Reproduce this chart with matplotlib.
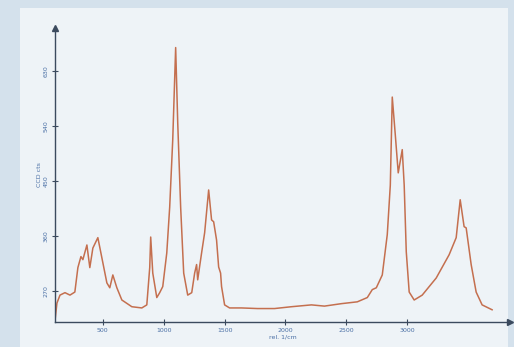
import matplotlib
matplotlib.use("Agg")
import matplotlib.pyplot as plt

# Raman spectrum
shift = [107, 123, 148, 189, 230, 270, 295, 320, 336, 369, 393, 418, 459, 492,
         533, 557, 582, 615, 656, 738, 820, 861, 885, 893, 910, 943, 967, 992,
         1025, 1049, 1074, 1098, 1115, 1139, 1164, 1197, 1230, 1254, 1270, 1279,
         1311, 1336, 1369, 1393, 1410, 1434, 1451, 1467, 1475, 1500, 1541, 1639,
         1771, 1910, 2049, 2213, 2320, 2459, 2590, 2672, 2713, 2746, 2795, 2836,
         2861, 2877, 2902, 2926, 2959, 2975, 2992, 3016, 3057, 3123, 3238, 3344,
         3402, 3435, 3467, 3484, 3525, 3566, 3615, 3697]
counts = [221, 250, 263, 267, 263, 268, 308, 326, 321, 345, 308, 340, 357, 324,
          283, 275, 296, 275, 255, 244, 242, 247, 308, 358, 299, 259, 267, 277,
          332, 407, 517, 668, 545, 407, 299, 263, 267, 299, 313, 288,
          332, 365, 435, 386, 383, 353, 309, 299, 277, 247, 242, 242,
          241, 241, 244, 247, 245, 249, 252, 259, 272, 275, 296, 362,
          443, 587, 525, 463, 501, 443, 334, 268, 255, 263, 291, 329,
          357, 419, 375, 373, 313, 268, 247, 239]

xticks = [500, 1000, 1500, 2000, 2500, 3000]
xtick_labels = ['500', '1000', '1500', '2000', '2500', '3000']
yticks = [270, 360, 450, 540, 630]
ytick_labels = ['270', '360', '450', '540', '630']

fig = plt.figure(figsize=(5.14, 3.47), dpi=100)
fig.patch.set_facecolor('#d4e1ec')

# lighter inner panel
bg = fig.add_axes([20/514, 0, 488/514, 1 - 8/347], zorder=-1)
bg.set_facecolor('#eef3f7')
bg.set_xticks([])
bg.set_yticks([])
for s in bg.spines.values():
    s.set_visible(False)

ax = fig.add_axes([55/514, 1 - 322/347, 455/514, 294/347])
ax.set_facecolor('none')
ax.plot(shift, counts, color='#c46f4f', lw=1.1)

ax.set_xlim(107, 3844)
ax.set_ylim(219, 700)
for s in ['top', 'right']:
    ax.spines[s].set_visible(False)
for s in ['left', 'bottom']:
    ax.spines[s].set_color('#3b4a5e')
    ax.spines[s].set_linewidth(1.0)

# arrow heads on axes
ax.plot(1, 0, '>', color='#3b4a5e', ms=5, transform=ax.transAxes, clip_on=False)
ax.plot(0, 1, '^', color='#3b4a5e', ms=5, transform=ax.transAxes, clip_on=False)

ax.set_xticks(xticks)
ax.set_xticklabels(xtick_labels)
ax.set_yticks(yticks)
ax.set_yticklabels(ytick_labels, rotation=90, va='center')
ax.tick_params(direction='inout', length=5, width=0.8, color='#3b4a5e',
               labelsize=4.5, labelcolor='#4a6fa5', pad=2)

ax.set_xlabel('rel. 1/cm', fontsize=4.5, color='#4a6fa5', labelpad=1)
ax.set_ylabel('CCD cts', fontsize=4.5, color='#4a6fa5', labelpad=1)

plt.savefig('out.png', dpi=100, facecolor=fig.get_facecolor())
